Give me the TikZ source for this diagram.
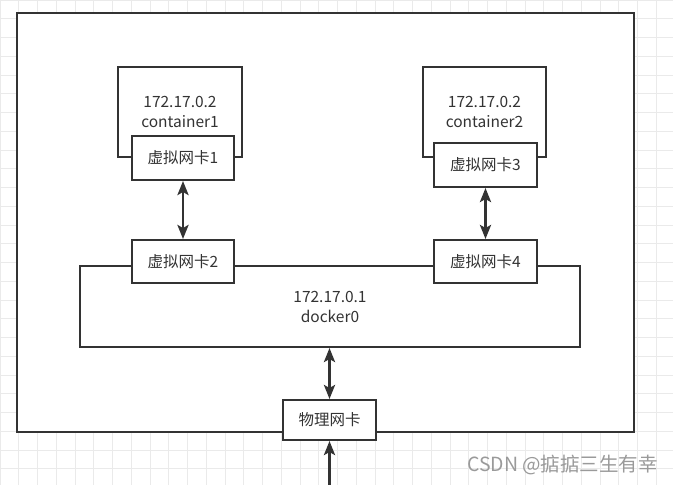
\documentclass[tikz,border=0pt]{standalone}
\usepackage{fontspec}
\setmainfont{Noto Sans CJK SC}
\usetikzlibrary{arrows.meta}
\definecolor{ink}{HTML}{333333}
\definecolor{gridc}{HTML}{EAEAEA}
\definecolor{wm}{HTML}{9A9A9A}
\tikzset{
  box/.style={draw=ink, line width=2pt, fill=white, rectangle, inner sep=0pt, align=center, text=ink, font=\fontsize{15.5}{21}\selectfont},
  link/.style={draw=ink, line width=2.8pt, {Stealth[length=14pt,width=11pt,inset=3pt]}-{Stealth[length=14pt,width=11pt,inset=3pt]}},
  uplink/.style={draw=ink, line width=2.8pt, -{Stealth[length=14pt,width=11pt,inset=3pt]}}
}
\begin{document}
\begin{tikzpicture}[x=1pt,y=-1pt]
\useasboundingbox (0,0) rectangle (673,485);
\fill[white] (0,0) rectangle (673,485);
\foreach \i in {0,...,36} {\draw[gridc, line width=0.7pt] (\i*18.75,0) -- (\i*18.75,485);}
\foreach \j in {0,...,26} {\draw[gridc, line width=0.7pt] (0,\j*18.75) -- (673,\j*18.75);}
% outer host box
\node[box, minimum width=617pt, minimum height=419pt] (host) at (325.5,222.5) {};
% containers
\node[box, minimum width=124pt, minimum height=90pt] (c1) at (180,112) {172.17.0.2\\[-1pt]container1};
\node[box, minimum width=123pt, minimum height=90pt] (c2) at (484.5,112) {172.17.0.2\\[-1pt]container2};
\node[box, minimum width=102pt, minimum height=44pt] (v1) at (183,158) {虚拟网卡1};
\node[box, minimum width=103pt, minimum height=44pt] (v3) at (485.5,165) {虚拟网卡3};
% docker0 bridge
\node[box, minimum width=500pt, minimum height=81pt] (d0) at (330,306.5) {172.17.0.1\\[-1pt]docker0};
\node[box, minimum width=102pt, minimum height=43pt] (v2) at (183,261.5) {虚拟网卡2};
\node[box, minimum width=103pt, minimum height=43pt] (v4) at (485.5,261.5) {虚拟网卡4};
% physical NIC
\node[box, minimum width=93pt, minimum height=40pt] (phy) at (329.5,420) {物理网卡};
\coordinate (ext) at (329.5,485);
% connectors
\draw[link] (v1.south) -- (v2.north);
\draw[link] (v3.south) -- (v4.north);
\draw[link] (phy.north |- d0.south) -- (phy.north);
\draw[uplink] (ext) -- (phy.south);
% watermark
\node[text=wm, font=\fontsize{19.5}{22}\selectfont, anchor=center] (wmk) at (562.5,465) {CSDN @掂掂三生有幸};
\end{tikzpicture}
\end{document}
